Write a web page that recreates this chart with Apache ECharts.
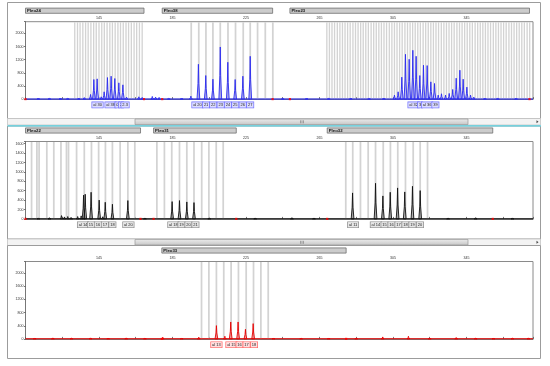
<!DOCTYPE html>
<html><head><meta charset="utf-8">
<script src="https://cdn.jsdelivr.net/npm/echarts@6/dist/echarts.min.js"></script>
<style>html,body{margin:0;padding:0;background:#fff}#c{width:550px;height:366px}</style>
</head><body><div id="c"></div>
<script>
// ---------- axis data ----------
const X_MIN = 105, X_MAX = 381.2;
const xTickLabels = [145, 185, 225, 265, 305, 345];
const yMax = [2355, 1647, 2355];
const yStep = [400, 200, 400];

// ---------- panel 1 (blue dye) ----------
const markerNames1 = ["Pleo24", "Pleo38", "Pleo23"];
const markerRanges1 = [[105, 169.5], [179.4, 239.5], [248.9, 379.3]];
const binsPleo24 = [131.8,133.3,134.7,136.2,137.7,139.1,140.6,142.1,143.5,145.0,146.5,147.9,149.4,150.9,152.3,153.8,155.3,156.7,158.2,159.7,161.1,162.6,164.1,165.5,167.0,168.5];
const binsPleo38 = [195.2,199.3,203.2,207.0,211.0,215.2,219.3,223.5,227.3,231.3,235.5,239.6];
const binsPleo23 = [269.0,270.4,271.8,273.2,274.7,276.1,277.5,278.9,280.3,281.7,283.2,284.6,286.0,287.4,288.8,290.2,291.6,293.1,294.5,295.9,297.3,298.7,300.1,301.5,303.0,304.4,305.8,307.2,308.6,310.0,311.5,312.9,314.3,315.7,317.1,318.5,319.9,321.4,322.8,324.2,325.6,327.0,328.4,329.8,331.3,332.7,334.1,335.5,336.9,338.3,339.8,341.2,342.6,344.0,345.4,346.8,348.2,349.7,351.1,352.5,353.9,355.3,356.7,358.1,359.6,361.0,362.4,363.8,365.2,366.6,368.1,369.5,370.9,372.3,373.7,375.1,376.5,378.0,379.4];
const peaks1 = [
  [112,25],[118,20],[124,25],[128,20],[134,30],[137,45],
  [140.4,141],[142.2,596],[144.0,616],[146.2,70],[147.8,222],[149.6,656],[151.6,697],[153.6,626],[155.8,495],[158.0,434],[160.0,60],[166.7,70],[168.5,50],
  [174.0,80],[175.8,60],[177.7,50],[183,20],[190,25],
  [195.0,90],[199.1,1060],[203.1,717],[207.0,606],[211.0,1586],[215.1,1121],[219.1,596],[223.3,697],[227.3,1303],
  [245,20],[258,25],[270,20],[282,25],[292,20],[300,30],
  [305.8,120],[307.8,222],[309.8,667],[311.8,1363],[313.8,1212],[315.8,1485],[317.6,1303],[319.6,717],[321.6,1030],[323.6,1020],[325.6,525],[327.6,475],[329.6,121],[331.4,162],[333.6,121],[335.6,172],[337.5,293],[339.4,636],[341.4,879],[343.2,606],[345.2,364],[347.2,121],[349.0,60],
  [355,25],[362,20],[372,25]
];
const alleleText1 = ["al 30","al 38","0","2","2.3","al 20","21","22","23","24","25","26","27","al 32","3","al 36","39"];
const allelePos1 = [144.2,151.3,155.0,157.0,159.2,198.6,203.3,207.2,211.2,215.2,219.2,223.2,227.3,316.2,319.7,323.6,328.1];

// ---------- panel 2 (black dye) ----------
const markerNames2 = ["Pleo22", "Pleo31", "Pleo32"];
const markerRanges2 = [[105, 167.6], [174.7, 219.7], [269.2, 359.3]];
const binsPleo22 = [108.3,111.2,112.4,116.6,120.4,124.3,127.3,128.4,132.8,137.0,140.9,144.8,148.5,152.3,156.5,160.7,164.5];
const binsPleo31 = [176.5,180.6,184.6,188.8,192.8,196.7,200.9,204.8,208.8,212.6];
const binsPleo32 = [279.3,283.1,287.3,291.5,295.5,299.7,303.6,307.6,311.8,316.0,319.8,323.8];
const peaks2 = [
  [112,20],[118,25],
  [124.6,70],[126.2,42],[128.0,50],[129.8,30],[133.4,50],[135.3,64],[136.6,505],[137.5,525],[140.7,567],[145.1,400],[147.0,45],[148.4,354],[152.3,312],[160.7,390],
  [170,20],[184.8,368],[188.8,390],[192.8,361],[196.7,347],[205,20],[230,20],[250,25],[262,20],
  [283.0,553],[295.5,758],[299.5,489],[303.5,567],[307.5,659],[311.4,574],[315.6,694],[319.8,602],
  [335,20],[350,25],[370,20]
];
const alleleText2 = ["al 14","15","16","17","18","al 20","al 18","19","20","21","al 11","al 14","15","16","17","18","19","20"];
const allelePos2 = [136.3,140.6,144.4,148.2,152.3,161.0,185.5,189.9,193.7,197.5,283.3,295.7,300.4,304.2,308.0,311.8,315.6,319.7];

// ---------- panel 3 (red dye) ----------
const markerNames3 = ["Pleo33"];
const markerRanges3 = [[179.2, 279.5]];
const binsPleo33 = [200.8,204.8,208.9,212.9,216.9,220.9,225.1,229.1,233.1,237.1];
const peaks3 = [
  [110,25],[119.9,30],[130,20],[140.4,30],[150,25],[159.8,30],[170,20],[179.7,50],[190,25],[199.3,50],
  [208.9,404],[213.5,80],[216.7,515],[220.7,515],[224.7,293],[228.9,465],
  [240,25],[255,20],[270,25],[285,20],[299.4,60],[313.4,80],[325,20],[339.4,40],[350,20],[359.7,25],[370,20],[378.7,30]
];
const alleleText3 = ["al 13","al 15","16","17","18"];
const allelePos3 = [208.9,217.1,221.5,225.3,229.4];

// ---------- build ----------
const sx = bp => bp - X_MIN;
const FONT = "Liberation Sans, Arial, sans-serif";
const gridTops = [21.7, 141.5, 261.5];
const GH = 77.4;

const panels = [
  {names: markerNames1, ranges: markerRanges1, bins: [[binsPleo24,0.72],[binsPleo38,0.95],[binsPleo23,0.72]], peaks: peaks1, aText: alleleText1, aPos: allelePos1,
   line:'#2a2af0', fill:'rgba(70,70,255,0.30)', boxFill:'#dcdcff', boxStroke:'#7070ff'},
  {names: markerNames2, ranges: markerRanges2, bins: [[binsPleo22,0.95],[binsPleo31,0.95],[binsPleo32,0.95]], peaks: peaks2, aText: alleleText2, aPos: allelePos2,
   line:'#111111', fill:'rgba(0,0,0,0.22)', boxFill:'#e6e6e6', boxStroke:'#8a8a8a'},
  {names: markerNames3, ranges: markerRanges3, bins: [[binsPleo33,0.95]], peaks: peaks3, aText: alleleText3, aPos: allelePos3,
   line:'#e80000', fill:'rgba(255,0,0,0.25)', boxFill:'#ffdede', boxStroke:'#ff6060'}
];

const grid = [], xAxis = [], yAxis = [], series = [];
panels.forEach((p, i) => {
  grid.push({left: 25.5, width: 507.5, top: gridTops[i], height: GH, show: true, borderColor: '#8a8a8a', borderWidth: 1, backgroundColor: '#fff'});
  xAxis.push({gridIndex: i, type: 'value', position: 'top', min: 0, max: X_MAX - X_MIN, interval: 20,
    axisLine: {show: true, lineStyle: {color: '#777', width: 1}},
    axisTick: {show: true, length: 2, lineStyle: {color: '#555', width: 0.8}},
    axisLabel: {fontSize: 3.6, fontFamily: FONT, color: '#333', margin: 1.5,
      formatter: v => { const b = Math.round(v + X_MIN); return (Math.abs(v + X_MIN - b) < 0.01 && xTickLabels.includes(b)) ? String(b) : ''; }},
    splitLine: {show: false}});
  yAxis.push({gridIndex: i, type: 'value', min: 0, max: yMax[i], interval: yStep[i],
    axisLine: {show: true, lineStyle: {color: '#777', width: 1}},
    axisTick: {show: true, length: 1.5, lineStyle: {color: '#555', width: 0.8}},
    axisLabel: {fontSize: 3.6, fontFamily: FONT, color: '#333', margin: 2,
      formatter: v => (v % yStep[i] === 0 ? String(v) : '')},
    splitLine: {show: false}});

  // bins
  p.bins.forEach(([arr, w]) => {
    series.push({type: 'custom', xAxisIndex: i, yAxisIndex: i, z: 1, silent: true,
      data: arr.map(b => [sx(b), 0]),
      renderItem: (params, api) => {
        const cs = params.coordSys;
        const u = api.value(0);
        const x0 = api.coord([u - w / 2, 0])[0], x1 = api.coord([u + w / 2, 0])[0];
        return {type: 'rect', shape: {x: x0, y: cs.y + 0.5, width: x1 - x0, height: cs.height - 0.5}, style: {fill: '#d3d3d3'}};
      }});
  });

  // baseline trace
  series.push({type: 'line', xAxisIndex: i, yAxisIndex: i, z: 3, silent: true, symbol: 'none',
    data: [[0, 0], [X_MAX - X_MIN, 0]], lineStyle: {color: p.line, width: 1.4}});

  // peaks
  series.push({type: 'custom', xAxisIndex: i, yAxisIndex: i, z: 4, silent: true,
    data: p.peaks.map(([b, h]) => [sx(b), h]),
    renderItem: (params, api) => {
      const u = api.value(0), h = api.value(1), hw = 0.75;
      const pts = [api.coord([u - hw, 0]), api.coord([u - hw * 0.3, h * 0.45]), api.coord([u, h]), api.coord([u + hw * 0.3, h * 0.45]), api.coord([u + hw, 0])];
      return {type: 'polygon', shape: {points: pts}, style: {fill: p.fill, stroke: p.line, lineWidth: 0.9}};
    }});

  // red range marks on baseline
  const ends = [];
  p.ranges.forEach(r => { ends.push([sx(r[0]), 0]); ends.push([sx(r[1]), 0]); });
  series.push({type: 'scatter', xAxisIndex: i, yAxisIndex: i, z: 5, silent: true, symbol: 'rect', symbolSize: [2.2, 2.2],
    itemStyle: {color: '#ff0000'}, data: ends, clip: false});

  // marker bars
  series.push({type: 'custom', xAxisIndex: i, yAxisIndex: i, z: 6, silent: true, clip: false,
    data: p.ranges.map(r => [sx(r[0]), sx(r[1]), 0]),
    encode: {x: [0, 1], y: 2},
    renderItem: (params, api) => {
      const cs = params.coordSys;
      const x0 = api.coord([api.value(0), 0])[0], x1 = api.coord([api.value(1), 0])[0];
      const yTop = cs.y - 13.6;
      return {type: 'group', children: [
        {type: 'rect', shape: {x: x0, y: yTop, width: x1 - x0, height: 5.2}, style: {fill: '#cccccc', stroke: '#6e6e6e', lineWidth: 0.8}},
        {type: 'text', x: x0 + 1.5, y: yTop + 2.7, style: {text: p.names[params.dataIndex], fontSize: 4.3, fontWeight: 'bold', fontFamily: FONT, fill: '#111', verticalAlign: 'middle', align: 'left'}}
      ]};
    }});

  // allele call labels
  series.push({type: 'custom', xAxisIndex: i, yAxisIndex: i, z: 7, silent: true, clip: false,
    data: p.aPos.map(b => [sx(b), 0]),
    renderItem: (params, api) => {
      const cs = params.coordSys;
      const x = api.coord([api.value(0), 0])[0];
      return {type: 'text', x: x, y: cs.y + cs.height + 3.2, style: {text: p.aText[params.dataIndex], fontSize: 4, fontFamily: FONT, fill: '#222',
        align: 'center', verticalAlign: 'top', backgroundColor: p.boxFill, borderColor: p.boxStroke, borderWidth: 0.7, padding: [0.8, 1, 0.5, 1]}};
    }});
});

// decorative frames & scrollbars
function scrollbar(y) {
  return [
    {type: 'rect', shape: {x: 7.5, y: y, width: 533, height: 6.5}, style: {fill: '#f3f3f3', stroke: '#c4c4c4', lineWidth: 0.8}},
    {type: 'rect', shape: {x: 135, y: y + 0.5, width: 333, height: 5.5}, style: {fill: {type: 'linear', x: 0, y: 0, x2: 0, y2: 1, colorStops: [{offset: 0, color: '#ececec'}, {offset: 1, color: '#c6c6c6'}]}, stroke: '#9a9a9a', lineWidth: 0.7}},
    {type: 'line', shape: {x1: 300.5, y1: y + 1.8, x2: 300.5, y2: y + 4.8}, style: {stroke: '#777', lineWidth: 0.6}},
    {type: 'line', shape: {x1: 302, y1: y + 1.8, x2: 302, y2: y + 4.8}, style: {stroke: '#777', lineWidth: 0.6}},
    {type: 'line', shape: {x1: 303.5, y1: y + 1.8, x2: 303.5, y2: y + 4.8}, style: {stroke: '#777', lineWidth: 0.6}},
    {type: 'polygon', shape: {points: [[536.5, y + 1.8], [538.5, y + 3.3], [536.5, y + 4.8]]}, style: {fill: '#444'}}
  ];
}
const graphic = [
  {type: 'rect', shape: {x: 7.5, y: 2.5, width: 533, height: 116}, style: {fill: 'none', stroke: '#9c9c9c', lineWidth: 1}},
  ...scrollbar(118.5),
  {type: 'rect', shape: {x: 7.5, y: 126, width: 533, height: 113}, style: {fill: 'none', stroke: '#9c9c9c', lineWidth: 1}},
  {type: 'line', shape: {x1: 7.5, y1: 125.8, x2: 541, y2: 125.8}, style: {stroke: '#5cd4e4', lineWidth: 1.3}},
  ...scrollbar(239),
  {type: 'rect', shape: {x: 7.5, y: 245.5, width: 533, height: 113}, style: {fill: 'none', stroke: '#9c9c9c', lineWidth: 1}}
];

const chart = echarts.init(document.getElementById('c'), null, {renderer: 'canvas'});
chart.setOption({animation: false, backgroundColor: '#ffffff', grid, xAxis, yAxis, series, graphic});
</script></body></html>
